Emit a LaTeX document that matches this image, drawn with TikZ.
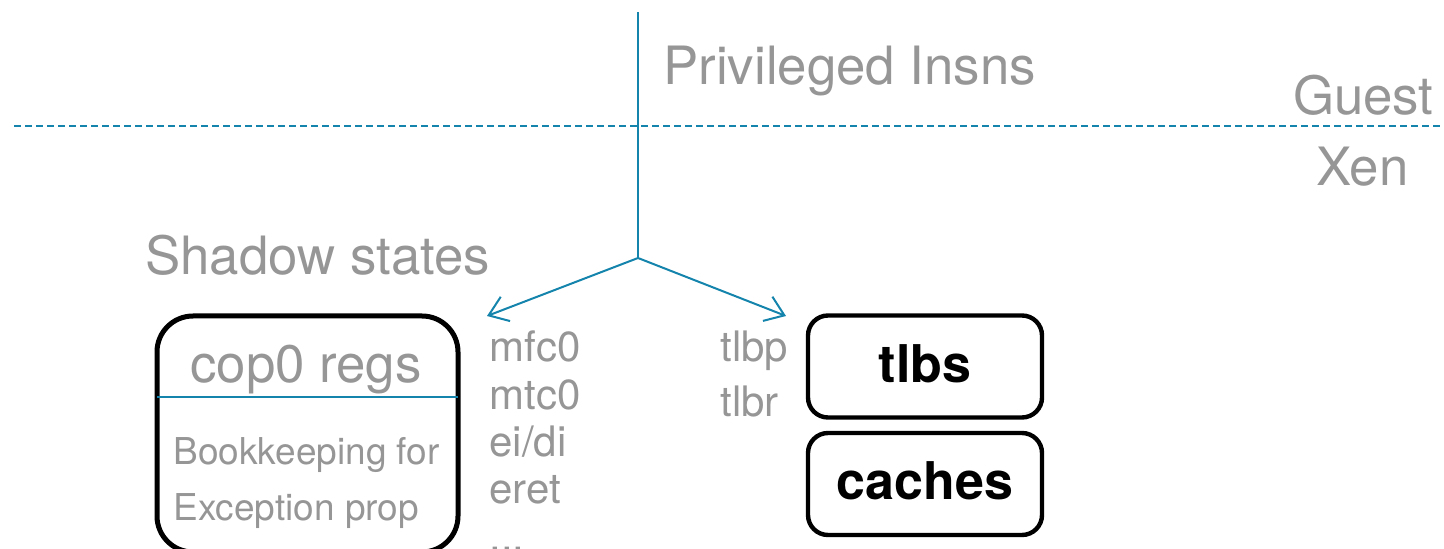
\documentclass[tikz,border=0pt]{standalone}
\usepackage{fontspec}
\setmainfont{TeX Gyre Heros}
\usetikzlibrary{arrows.meta}

\definecolor{xenteal}{RGB}{20,132,172}
\definecolor{xengray}{RGB}{150,150,150}

\begin{document}
\begin{tikzpicture}[x=0.5pt, y=-0.5pt, >={Straight Barb[length=9pt,width=13pt]},
    big/.style={font=\fontsize{26.4}{30}\selectfont, text=xengray, inner sep=0pt},
    cmd/.style={font=\fontsize{21}{24}\selectfont, text=xengray, inner sep=0pt, anchor=base west},
    small/.style={font=\fontsize{18.5}{22}\selectfont, text=xengray, inner sep=0pt, anchor=base west},
    hwbox/.style={draw, line width=2.2pt, rounded corners=10pt},
    hwlabel/.style={font=\fontsize{26}{30}\selectfont\bfseries, inner sep=0pt}]
  \useasboundingbox (0,0) rectangle (1444,549);
  % Guest / Xen boundary.
  \coordinate (bl) at (14,126);
  \coordinate (br) at (1444,126);
  \draw[xenteal, line width=1.1pt, dash pattern=on 3.5pt off 2pt] (bl) -- (br);
  \node[big, anchor=base east] (guest) at (1434,115) {Guest};
  \node[big, anchor=base west] (xen) at (1316,186) {Xen};
  % Trapped instructions coming down from the guest.
  \coordinate (top) at (638,12);
  \coordinate (split) at (638,258);
  \coordinate (ltip) at (487,316);
  \coordinate (rtip) at (786,316);
  \draw[xenteal, line width=1.3pt] (top) -- (split);
  \draw[->, xenteal, line width=1pt] (split) -- (ltip);
  \draw[->, xenteal, line width=1pt] (split) -- (rtip);
  \node[big, anchor=base west] (priv) at (663,85) {Privileged Insns};
  % Shadow states box.
  \node[big, anchor=base west] (shadow) at (145,275) {Shadow states};
  \draw[line width=2.5pt, rounded corners=18pt] (157,316) rectangle (458,552);
  \coordinate (sl) at (157,397);
  \coordinate (sr) at (458,397);
  \draw[xenteal, line width=1.1pt] (sl) -- (sr);
  \node[big, anchor=base] (cop) at (306,383) {cop0 regs};
  \node[small] (book) at (173,465) {Bookkeeping for};
  \node[small] (excp) at (173,520) {Exception prop};
  % Instruction lists.
  \foreach \name/\txt/\y in {mfc/mfc0/362, mtc/mtc0/410, eidi/ei\slash di/457, eret/eret/503}
    \node[cmd] (\name) at (489,\y) {\txt};
  \node[cmd] (more) at (489,551) {...};
  \node[cmd] (tlbp) at (720,362) {tlbp};
  \node[cmd] (tlbr) at (720,417) {tlbr};
  % Hardware state boxes.
  \node[hwbox, minimum width=117pt, minimum height=51pt] (tlbs) at (925,366.5) {};
  \node[hwlabel, anchor=base] at (925,383) {tlbs};
  \node[hwbox, minimum width=117pt, minimum height=51pt] (caches) at (925,484) {};
  \node[hwlabel, anchor=base] at (925,500) {caches};
\end{tikzpicture}
\end{document}
